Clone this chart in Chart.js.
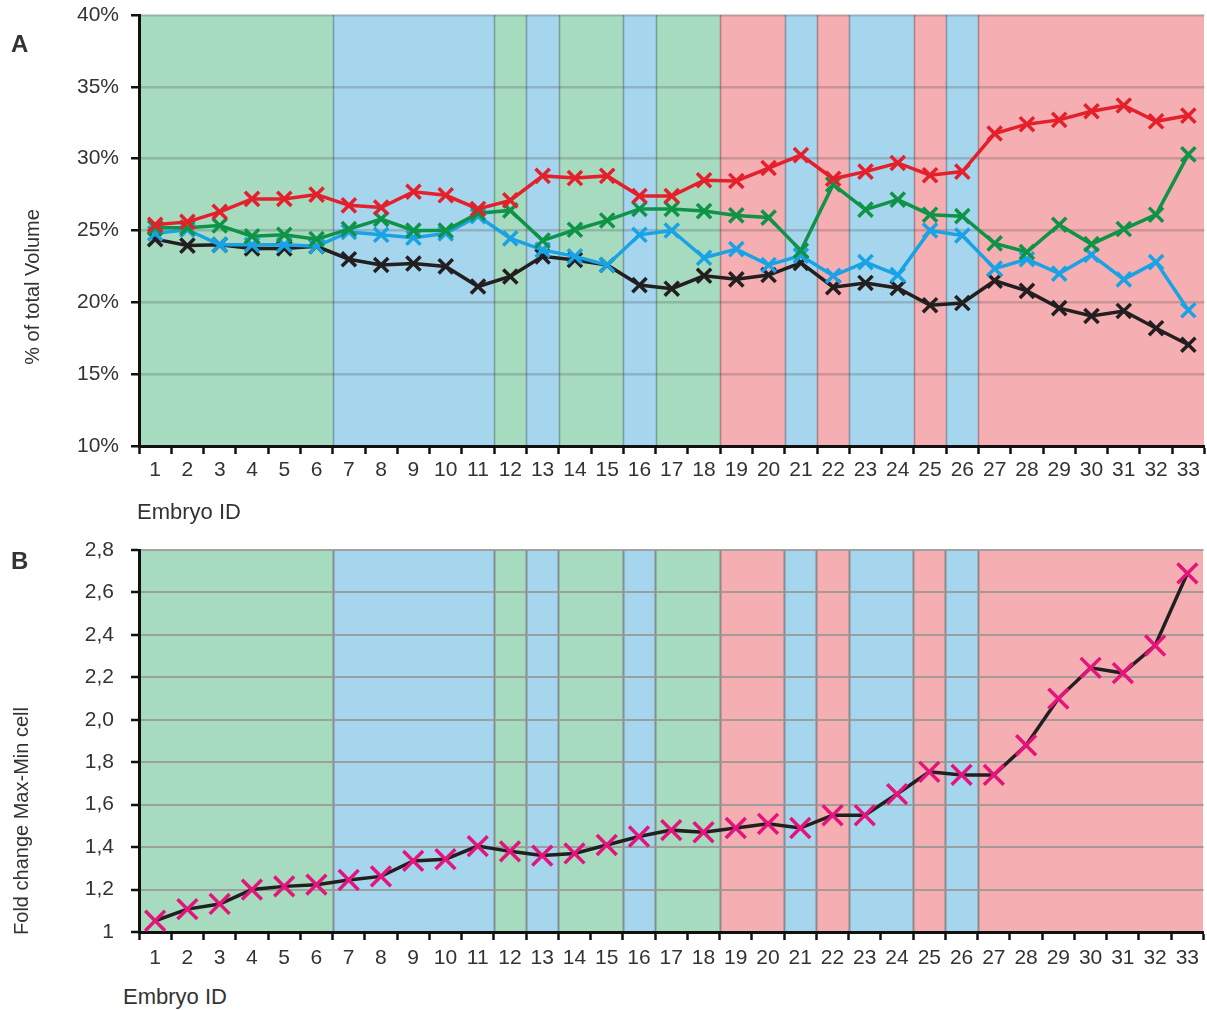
<!DOCTYPE html>
<html><head><meta charset="utf-8">
<script src="https://cdn.jsdelivr.net/npm/chart.js@4"></script>
<style>
body{margin:0;background:#fff;width:1207px;height:1010px;overflow:hidden;position:relative;font-family:"Liberation Sans",Arial,sans-serif;color:#333}
.box{position:absolute;left:0}
.lbl{position:absolute;white-space:nowrap;line-height:1}
.rot{transform:translate(-50%,-50%) rotate(-90deg)}
</style></head><body>
<div class="box" style="top:0;width:1218px;height:486px"><canvas id="chartA"></canvas></div>
<div class="box" style="top:500px;width:1221px;height:472px"><canvas id="chartB"></canvas></div>
<div class="lbl" style="left:11px;top:32px;font-size:24px;font-weight:bold;color:#333">A</div>
<div class="lbl rot" style="left:32px;top:287px;font-size:20px">% of total Volume</div>
<div class="lbl" style="left:137px;top:501px;font-size:22px">Embryo ID</div>
<div class="lbl" style="left:11px;top:549px;font-size:24px;font-weight:bold;color:#333">B</div>
<div class="lbl rot" style="left:21px;top:821px;font-size:20px">Fold change Max-Min cell</div>
<div class="lbl" style="left:123px;top:986px;font-size:22px">Embryo ID</div>
<script>
// ---- data ----
const embryoIds = ['1','2','3','4','5','6','7','8','9','10','11','12','13','14','15','16','17','18','19','20','21','22','23','24','25','26','27','28','29','30','31','32','33'];
// band class per embryo: G = green, B = blue, R = red
const embryoGroups = ['G','G','G','G','G','G','B','B','B','B','B','G','B','G','G','B','G','G','R','R','B','R','B','B','R','B','R','R','R','R','R','R','R'];
const redSeries = [25.4,25.6,26.3,27.2,27.2,27.5,26.75,26.6,27.7,27.45,26.5,27.1,28.8,28.65,28.8,27.4,27.4,28.5,28.45,29.35,30.25,28.6,29.1,29.7,28.85,29.1,31.75,32.4,32.7,33.3,33.7,32.6,33.0];
const greenSeries = [25.2,25.2,25.35,24.6,24.7,24.4,25.1,25.8,25.0,25.0,26.2,26.4,24.3,25.05,25.7,26.5,26.5,26.35,26.05,25.9,23.6,28.2,26.45,27.15,26.1,26.0,24.1,23.5,25.4,24.05,25.1,26.1,30.3];
const blueSeries = [24.8,25.05,24.0,24.0,24.0,23.9,24.9,24.7,24.5,24.8,26.0,24.45,23.65,23.2,22.6,24.7,25.0,23.1,23.7,22.6,23.25,21.85,22.8,21.9,25.0,24.65,22.35,23.0,22.0,23.3,21.6,22.8,19.45];
const blackSeries = [24.4,23.95,24.0,23.75,23.75,23.9,23.0,22.6,22.7,22.5,21.1,21.8,23.2,22.95,22.6,21.2,20.95,21.85,21.6,21.9,22.75,21.05,21.35,21.0,19.8,19.95,21.5,20.8,19.6,19.05,19.4,18.2,17.05];
const foldChange = [1.053,1.108,1.132,1.20,1.215,1.223,1.245,1.262,1.335,1.343,1.405,1.38,1.36,1.37,1.41,1.45,1.48,1.47,1.49,1.51,1.49,1.55,1.55,1.65,1.755,1.74,1.74,1.88,2.10,2.245,2.22,2.35,2.69];
const yTicksA = ['10%','15%','20%','25%','30%','35%','40%'];
const yTicksB = ['1','1,2','1,4','1,6','1,8','2,0','2,2','2,4','2,6','2,8'];

// ---- styling ----
const bandColors = {G:'#a6dbc0', B:'#a6d5ee', R:'#f5aeb1'};
const bandPlugin = {
  id:'bands',
  beforeDraw(chart, args, opts){
    const {ctx, chartArea:ca, scales:{x}} = chart;
    const n = embryoIds.length;
    const w = x.getPixelForValue(1) - x.getPixelForValue(0);
    const edge = i => Math.round(x.getPixelForValue(0) - w/2 + i*w);
    ctx.save();
    for (let i=0;i<n;i++){
      const l = edge(i), r = edge(i+1);
      ctx.fillStyle = bandColors[embryoGroups[i]];
      ctx.fillRect(l, ca.top, r-l, ca.bottom-ca.top);
    }
    ctx.strokeStyle = opts.lineColor; ctx.lineWidth = opts.lineWidth;
    for (let i=1;i<n;i++){
      if (embryoGroups[i] !== embryoGroups[i-1]){
        const xb = edge(i) + 0.5;
        ctx.beginPath(); ctx.moveTo(xb, ca.top); ctx.lineTo(xb, ca.bottom); ctx.stroke();
      }
    }
    ctx.restore();
  }
};
Chart.register(bandPlugin);
const fontX = {family:'"Liberation Sans", Arial, sans-serif', size:21};
const fontY = {family:'"Liberation Sans", Arial, sans-serif', size:21};
const lineDs = (label, data, color, order) => ({
  label, data, borderColor: color, pointBorderColor: color, backgroundColor: color,
  borderWidth: 3.5, pointStyle:'crossRot', pointRadius: 10, pointHoverRadius: 10,
  pointBorderWidth: 3.5, tension: 0, order, clip:false
});
const fitX = s => { s.height = 40; };
const fitY = s => { s.width = 139; s.paddingTop = 0; s.paddingBottom = 0; };

new Chart(document.getElementById('chartA'), {
  type:'line',
  data:{ labels: embryoIds, datasets:[
    lineDs('red', redSeries, '#e3202b', 0),
    lineDs('green', greenSeries, '#0f9447', 1),
    lineDs('blue', blueSeries, '#1aa3e4', 2),
    lineDs('black', blackSeries, '#231f20', 3)
  ]},
  options:{
    responsive:true, maintainAspectRatio:false, animation:false,
    layout:{padding:{top:15, right:2, left:0, bottom:0}},
    plugins:{legend:{display:false}, tooltip:{enabled:false}, bands:{lineColor:'rgba(0,0,0,0.28)', lineWidth:1.5}},
    scales:{
      x:{ offset:true,
        grid:{offset:true, drawOnChartArea:false, drawTicks:true, tickLength:8, tickWidth:2.5, tickColor:'#111'},
        border:{display:true, color:'#111', width:3},
        ticks:{font:fontX, color:'#333', padding:4, maxRotation:0, autoSkip:false},
        afterFit: fitX
      },
      y:{ min:10, max:40,
        grid:{color:'rgba(60,60,60,0.22)', lineWidth:2.5, tickLength:8, tickWidth:2.5, tickColor:'#111'},
        border:{display:true, color:'#111', width:3},
        ticks:{stepSize:5, font:fontY, color:'#333', padding:12, callback:(v,i)=>yTicksA[i]},
        afterFit: fitY
      }
    }
  }
});

new Chart(document.getElementById('chartB'), {
  type:'line',
  data:{ labels: embryoIds, datasets:[{
    label:'fold', data: foldChange, borderColor:'#231f20', borderWidth:3.5,
    pointBorderColor:'#e4147d', pointBackgroundColor:'#e4147d', pointStyle:'crossRot',
    pointRadius:14, pointHoverRadius:14, pointBorderWidth:3.5, tension:0, clip:false
  }]},
  options:{
    responsive:true, maintainAspectRatio:false, animation:false,
    layout:{padding:{top:50, right:2, left:0, bottom:0}},
    plugins:{legend:{display:false}, tooltip:{enabled:false}, bands:{lineColor:'rgba(120,120,120,0.75)', lineWidth:2}},
    scales:{
      x:{ offset:true,
        grid:{offset:true, drawOnChartArea:false, drawTicks:true, tickLength:8, tickWidth:2.5, tickColor:'#111'},
        border:{display:true, color:'#111', width:3},
        ticks:{font:fontX, color:'#333', padding:6, maxRotation:0, autoSkip:false},
        afterFit: fitX
      },
      y:{ min:1, max:2.8,
        grid:{color:'rgba(150,150,150,0.85)', lineWidth:2, tickLength:8, tickWidth:2.5, tickColor:'#111'},
        border:{display:true, color:'#111', width:3},
        ticks:{stepSize:0.2, font:fontY, color:'#333', padding:17, callback:(v,i)=>yTicksB[i]},
        afterFit: fitY
      }
    }
  }
});
</script>
</body></html>
